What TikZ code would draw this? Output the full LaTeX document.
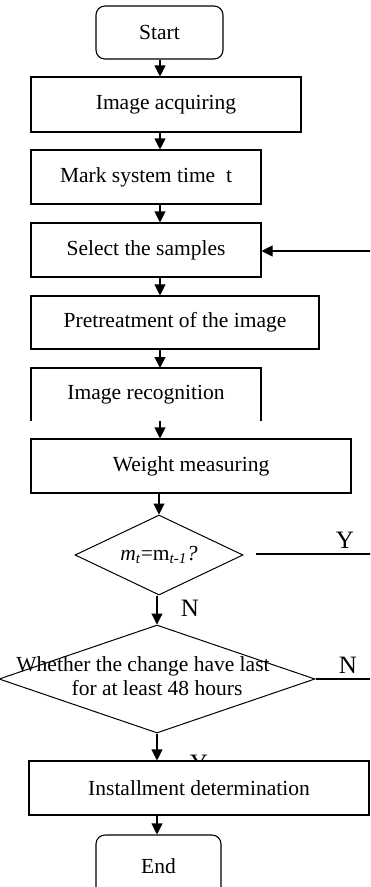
\documentclass[tikz,border=0pt]{standalone}
\usepackage{fontspec}
\setmainfont{Liberation Serif}
\usetikzlibrary{shapes.geometric,arrows.meta}
\begin{document}
\begin{tikzpicture}[
			x=1pt, y=-1pt,
			blocco/.style={rectangle, draw=black, fill=white, line width=1.1pt,
				inner sep=0pt, font=\testo},
			terminale/.style={blocco, rounded corners=9pt},
			rombo/.style={diamond, draw=black, line width=1.0pt, inner sep=0pt,
				font=\testo},
			freccia/.style={line width=1.1pt, black,
				-{Triangle[length=11pt,width=11pt]}},
			linea/.style={line width=1.2pt, black},
			etich/.style={inner sep=0pt, font=\etichetta},
			]
			
			%% caratteri ----------------------------------------
			\newcommand{\testo}{\fontsize{21.5}{24}\selectfont}
			\newcommand{\etichetta}{\fontsize{25}{28}\selectfont}
			
			\clip (0,0) rectangle (370,887);
			\fill[white] (0,0) rectangle (370,887);
			
			%% assi verticali delle frecce
			\coordinate (asse) at (160,0);
			\coordinate (asseB) at (157,0);
			
			%% =========================================================
			%% blocchi superiori
			%% =========================================================
			\node[terminale, minimum width=127, minimum height=53](start)at(159.5,32.5){Start};
			\node[blocco, minimum width=270, minimum height=55](acq)at(166,104.5){Image acquiring};
			\node[blocco, minimum width=230, minimum height=54](mark)at(146,177){Mark system time\ \ t};
			\node[blocco, minimum width=230, minimum height=54](sel)at(146,250){Select the samples};
			\node[blocco, minimum width=288, minimum height=53](pre)at(175,322.5){Pretreatment of the image};
			%% riconoscimento: scatola aperta in basso
			\node[blocco, draw=none, outer sep=0pt, minimum width=230, minimum height=53](rec)at(146,394.5){Image recognition};
			\draw[linea](rec.south west)--(rec.north west)--(rec.north east)--(rec.south east);
			\node[blocco, minimum width=320, minimum height=54](wgt)at(191,466){Weight measuring};
			
			%% frecce della catena principale
			\draw[freccia](asse |- start.south)--(asse |- acq.north);
			\draw[freccia](asse |- acq.south)--(asse |- mark.north);
			\draw[freccia](asse |- mark.south)--(asse |- sel.north);
			\draw[freccia](asse |- sel.south)--(asse |- pre.north);
			\draw[freccia](asse |- pre.south)--(asse |- rec.north);
			\draw[freccia](asse |- rec.south)--(asse |- wgt.north);
			
			%% ritorno da destra
			\coordinate (ritorno) at (371,251);
			\draw[freccia](ritorno)--(ritorno -| sel.east);
			
			%% =========================================================
			%% decisioni
			%% =========================================================
			\node[rombo, aspect=2.1, minimum width=168, minimum height=80](d1)at(159,555)
				{\textit{m}\textsubscript{\textit{t}}=m\textsubscript{\textit{t-1}}\textit{?}};
			\draw[freccia](d1.north |- wgt.south)--(d1.north);
			
			\coordinate (sY) at (256,554);
			\coordinate (eY) at (371,554);
			\draw[linea](sY)--(eY);
			\node[etich](lY)at(345,540){Y};
			
			\node[rombo, aspect=2.9, minimum width=316, minimum height=108](d2)at(157,679)
				{\makebox[0pt]{\begin{tabular}{@{}c@{}}\hspace*{-28pt}Whether the change have last\\for at least 48 hours\end{tabular}}};
			\draw[freccia](asseB |- d1.south)--(asseB |- d2.north);
			\node[etich](lN1)at(190,608){N};
			
			\coordinate (eN) at (371,679);
			\draw[linea](d2.east)--(eN);
			\node[etich](lN2)at(348,665){N};
			
			%% =========================================================
			%% blocchi finali
			%% =========================================================
			\node[etich](lY2)at(199,763){Y};
			\node[blocco, minimum width=340, minimum height=54](inst)at(199,788){Installment determination};
			\draw[freccia](asseB |- d2.south)--(asseB |- inst.north);
			\node[terminale, minimum width=125, minimum height=62](fine)at(158.5,866){End};
			\draw[freccia](asseB |- inst.south)--(asseB |- fine.north);
			
	\end{tikzpicture}
\end{document}
